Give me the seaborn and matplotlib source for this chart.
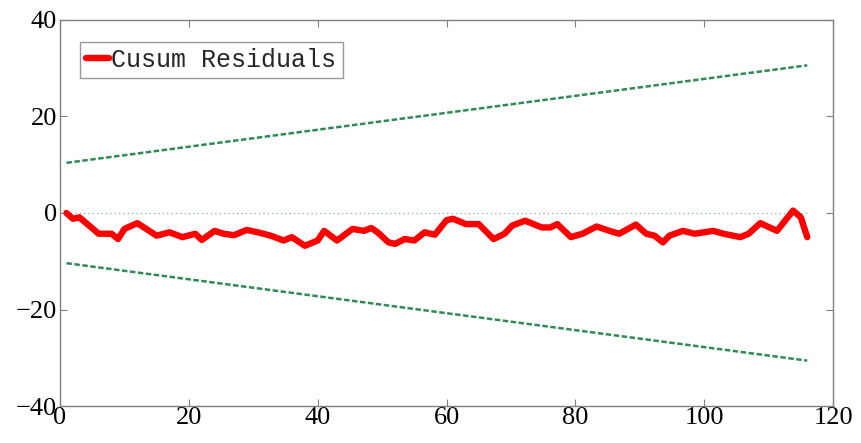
import matplotlib
matplotlib.use("Agg")
import matplotlib.pyplot as plt
import seaborn as sns
import pandas as pd

# Cusum residual path (breakpoints)
cusum_x = [1, 2, 3, 6, 8, 9, 10, 12, 15, 17, 19, 21, 22, 24, 25.4, 27, 29, 31,
           32.7, 34.7, 36, 38, 40, 41, 43, 45.4, 47.2, 48.3, 49.3, 51, 52, 53.5,
           55, 56.6, 58.2, 60, 61, 63, 65, 67.3, 69, 70.2, 72.2, 74.8, 76.1,
           77.2, 79.3, 81.1, 83.3, 85.3, 86.8, 89.4, 91, 92.3, 93.6, 94.6, 96.7,
           98.5, 101.4, 103, 105.6, 106.9, 108.7, 111.3, 113.8, 115, 116]
cusum_y = [0.0, -1.2, -0.9, -4.3, -4.3, -5.4, -3.3, -2.1, -4.7, -4.0, -5.0, -4.3,
           -5.6, -3.7, -4.3, -4.6, -3.5, -4.1, -4.7, -5.7, -5.0, -6.8, -5.7, -3.7,
           -5.7, -3.3, -3.7, -3.1, -4.0, -6.1, -6.4, -5.4, -5.7, -4.0, -4.5, -1.5,
           -1.2, -2.3, -2.3, -5.4, -4.3, -2.6, -1.6, -3.0, -3.0, -2.3, -5.0, -4.3,
           -2.8, -3.7, -4.3, -2.4, -4.3, -4.7, -6.1, -4.7, -3.7, -4.3, -3.7, -4.3,
           -5.0, -4.3, -2.1, -3.7, 0.5, -0.9, -5.0]

# Significance bounds (straight lines) and zero reference
bound_x = [1, 116]
upper_y = [10.4, 30.6]
lower_y = [-10.4, -30.6]
zero_y = [0, 0]

legend_label = "Cusum Residuals"
xticks = [0, 20, 40, 60, 80, 100, 120]
yticks = [-40, -20, 0, 20, 40]

sns.set_theme(style="white")
plt.rcParams["font.family"] = ["Liberation Serif", "DejaVu Serif"]

fig = plt.figure(figsize=(8.61, 4.43), dpi=100)
ax = fig.add_axes([0.0697, 0.0835, 0.8978, 0.8714])

df_c = pd.DataFrame({"x": cusum_x, "y": cusum_y})
df_u = pd.DataFrame({"x": bound_x, "y": upper_y})
df_l = pd.DataFrame({"x": bound_x, "y": lower_y})
df_z = pd.DataFrame({"x": bound_x, "y": zero_y})

green = "#2e8b57"
sns.lineplot(data=df_z, x="x", y="y", ax=ax, color="#7fb5a5", lw=0.9,
             linestyle=(0, (1, 2.5)), sort=False, estimator=None)
sns.lineplot(data=df_u, x="x", y="y", ax=ax, color=green, lw=1.8,
             linestyle=(0, (2.2, 1.0)), sort=False, estimator=None)
sns.lineplot(data=df_l, x="x", y="y", ax=ax, color=green, lw=1.8,
             linestyle=(0, (2.2, 1.0)), sort=False, estimator=None)
sns.lineplot(data=df_c, x="x", y="y", ax=ax, color="#ff0000", lw=4.6,
             sort=False, estimator=None, label=legend_label)

ax.set_xlim(0, 120)
ax.set_ylim(-40, 40)
ax.set_xticks(xticks)
ax.set_yticks(yticks)
ax.set_xticklabels([str(t) for t in xticks])
ax.set_yticklabels(["\u2212" + str(-t) if t < 0 else str(t) for t in yticks])
ax.set_xlabel("")
ax.set_ylabel("")
for s in ax.spines.values():
    s.set_visible(True)
    s.set_color("#808080")
    s.set_linewidth(1.0)
ax.tick_params(direction="in", length=5, width=0.8, color="#808080",
               labelsize=19, labelcolor="black", top=True, right=True,
               left=True, bottom=True, pad=2)
ax.tick_params(axis="x", pad=1)
ax.grid(False)

leg = ax.legend(loc="upper left", bbox_to_anchor=(0.026, 0.943),
                prop={"family": ["Liberation Mono", "DejaVu Sans Mono"], "size": 18},
                frameon=True, fancybox=False, handlelength=0.9,
                handletextpad=0.1, borderpad=0.25, borderaxespad=0.0)
leg.get_frame().set_edgecolor("#808080")
leg.get_frame().set_linewidth(1.0)
for h in leg.get_lines():
    h.set_linewidth(4.6)

fig.savefig("out.png", dpi=100, facecolor="white")
